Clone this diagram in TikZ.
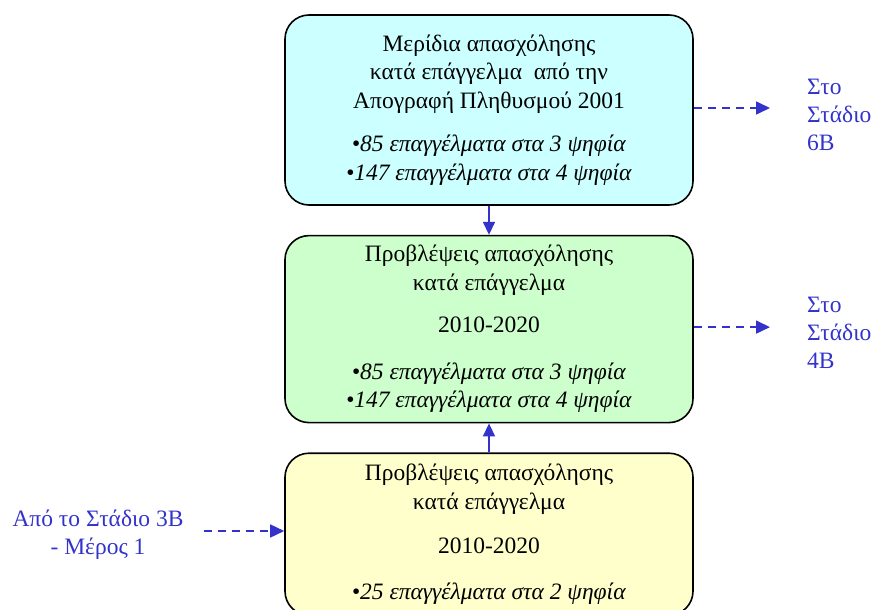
\documentclass[tikz,border=0pt]{standalone}
\usepackage{fontspec}
\setmainfont{Liberation Serif}
\usepackage{xcolor}
\usetikzlibrary{arrows.meta, positioning}
\definecolor{CyanFill}{HTML}{CCFFFF}
\definecolor{GreenFill}{HTML}{CCFFCC}
\definecolor{YellowFill}{HTML}{FFFFCC}
\definecolor{FlowBlue}{HTML}{3333CC}

\begin{document}
\begin{tikzpicture}[
  x=1pt, y=1pt,
  stagebox/.style={rectangle, draw=black, line width=1.6pt, rounded corners=24pt, minimum width=408pt, align=center, font=\fontsize{23.5}{28.5}\selectfont},
  flow/.style={-{Triangle[length=13pt, width=12pt]}, line width=1.6pt, FlowBlue},
  dashflow/.style={-{Triangle[length=14pt, width=13pt]}, line width=1.6pt, FlowBlue, dash pattern=on 8pt off 6pt},
  note/.style={text=FlowBlue, inner sep=0pt, font=\fontsize{23.5}{28}\selectfont}
]
\useasboundingbox (0,0) rectangle (875,-610);
\clip (0,0) rectangle (875,-610);

\node[stagebox, fill=CyanFill, minimum height=190pt] (meridia) at (489,-110)
  {Μερίδια απασχόλησης\\ κατά επάγγελμα\ \ από την\\ Απογραφή Πληθυσμού 2001\\[15pt]
   \textit{•85 επαγγέλματα στα 3 ψηφία}\\ \textit{•147 επαγγέλματα στα 4 ψηφία}};
\node[stagebox, fill=GreenFill, minimum height=187pt, below=29pt of meridia] (provlepseis)
  {Προβλέψεις απασχόλησης\\ κατά επάγγελμα\\[14pt] 2010-2020\\[18pt]
   \textit{•85 επαγγέλματα στα 3 ψηφία}\\ \textit{•147 επαγγέλματα στα 4 ψηφία}};
\node[stagebox, fill=YellowFill, minimum height=162pt, below=29pt of provlepseis] (dipsifia)
  {Προβλέψεις απασχόλησης\\ κατά επάγγελμα\\[16pt] 2010-2020\\[17pt]
   \textit{•25 επαγγέλματα στα 2 ψηφία}};

\node[note, align=left, anchor=west] (stadio6b) at (807,-115) {Στο\\ Στάδιο\\ 6B};
\node[note, align=left, anchor=west] (stadio4b) at (807,-333) {Στο\\ Στάδιο\\ 4B};
\node[note, align=center] (stadio3b) at (98,-535) {Από το Στάδιο 3B\\ - Μέρος 1};

\draw[flow] (meridia) -- (provlepseis);
\draw[flow] (dipsifia) -- (provlepseis);
\draw[dashflow, shorten >=37pt] ([yshift=2pt]meridia.east) -- ([yshift=2pt]meridia.east -| stadio6b.west);
\draw[dashflow, shorten >=37pt] ([yshift=2pt]provlepseis.east) -- ([yshift=2pt]provlepseis.east -| stadio4b.west);
\draw[dashflow, shorten <=20pt] ([yshift=4pt]stadio3b.east) -- ([yshift=4pt]stadio3b.east -| dipsifia.west);

\end{tikzpicture}
\end{document}
